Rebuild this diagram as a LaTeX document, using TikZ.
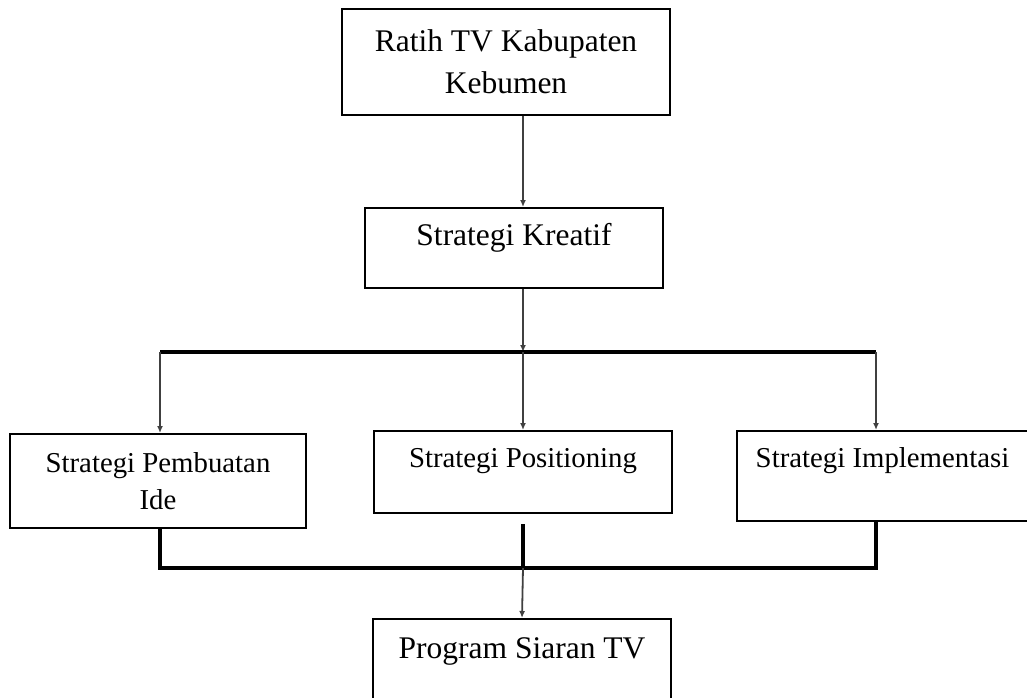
\documentclass[tikz,border=0pt]{standalone}
\usepackage{fontspec}
\setmainfont{Liberation Serif}
\usetikzlibrary{arrows.meta,calc,positioning}
\newcommand\bigText{\fontsize{31.5}{42}\selectfont}
\newcommand\midText{\fontsize{28.8}{37}\selectfont}
\tikzset{
    x=1pt, y=-1pt,
    box/.style ={rectangle, draw, line width=2pt, inner xsep=0pt, inner ysep=0pt, align=center},
    oneline/.style 2 args = {box, anchor=north, text height=#1, text depth=#2},
    flow/.style = {-{Latex[length=7pt,width=6pt]}, line width=1.8pt, black!75},
    bus/.style = {line width=3.5pt}
}
\begin{document}
\begin{tikzpicture}
      \useasboundingbox (0,0) rectangle (1027,698);

      \node[box, minimum width=328, minimum height=106, font=\bigText] (ratih) at (506,62) {Ratih TV Kabupaten\\Kebumen};
      \node[oneline={37pt}{43pt}, minimum width=298, font=\bigText] (kreatif) at (514,207) {Strategi Kreatif};
      \node[box, minimum width=296, minimum height=94, font=\midText] (pembuatan) at (158,481) {Strategi Pembuatan\\Ide};
      \node[oneline={36pt}{46pt}, minimum width=298, font=\midText] (positioning) at (523,430) {Strategi Positioning};
      \node[oneline={36pt}{54pt}, minimum width=291, font=\midText] (implementasi) at (882.5,430) {Strategi Implementasi};
      \node[oneline={39pt}{46pt}, minimum width=298, font=\bigText] (program) at (522,618) {Program Siaran TV};

      \coordinate (split) at (523,352);
      \coordinate (splitL) at (160,352);
      \coordinate (splitR) at (876,352);
      \coordinate (join) at (523,568);
      \coordinate (joinL) at (160,568);
      \coordinate (joinR) at (876,568);

      \draw[flow] (ratih.south -| split) -- (kreatif.north -| split);
      \draw[flow] (kreatif.south -| split) -- (split);
      \draw[bus] (splitL) -- (splitR);
      \draw[flow] (splitL) -- (splitL |- pembuatan.north);
      \draw[flow] (split) -- (positioning.north);
      \draw[flow] (splitR) -- (splitR |- implementasi.north);

      \draw[bus] (pembuatan.south -| joinL) -- (joinL) -- (joinR) -- (implementasi.south -| joinR);
      \draw[bus] ([yshift=-10pt]positioning.south) -- (join);
      \draw[flow] (join) -- (program.north);
\end{tikzpicture}
\end{document}
